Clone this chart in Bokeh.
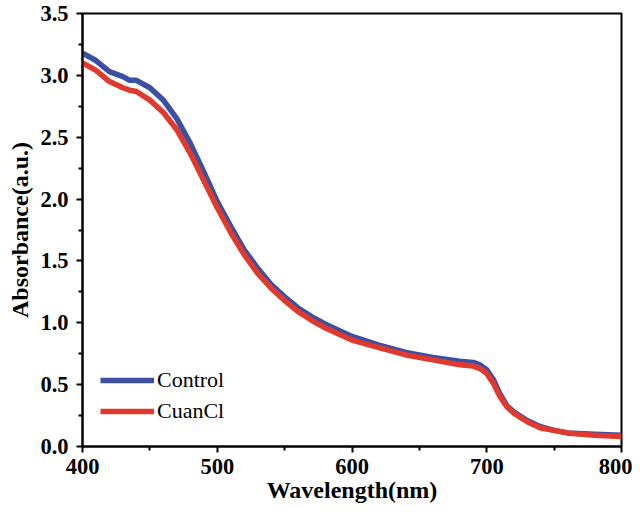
from bokeh.plotting import figure
from bokeh.models import Legend, LegendItem, FixedTicker, Range1d
from bokeh.embed import file_html
from bokeh.resources import INLINE

wavelength = [400, 410, 420, 430, 435, 440, 450, 460, 470, 480, 490, 500, 510, 520, 530,
              540, 550, 560, 570, 580, 590, 600, 620, 640, 660, 680, 690, 695, 700, 705,
              710, 715, 720, 730, 740, 750, 760, 780, 800]
control = [3.18, 3.12, 3.03, 2.99, 2.96, 2.96, 2.90, 2.80, 2.65, 2.45, 2.22, 1.98, 1.78, 1.59, 1.44,
           1.31, 1.21, 1.12, 1.05, 0.99, 0.94, 0.89, 0.82, 0.76, 0.72, 0.69, 0.68, 0.66, 0.62, 0.54,
           0.42, 0.33, 0.28, 0.21, 0.16, 0.13, 0.11, 0.10, 0.09]
cuancl = [3.10, 3.04, 2.95, 2.90, 2.88, 2.87, 2.80, 2.70, 2.56, 2.37, 2.15, 1.93, 1.73, 1.55, 1.40,
          1.28, 1.18, 1.09, 1.02, 0.96, 0.91, 0.86, 0.80, 0.74, 0.70, 0.66, 0.65, 0.63, 0.59, 0.51,
          0.40, 0.32, 0.27, 0.20, 0.15, 0.13, 0.11, 0.09, 0.08]
x_ticks = [400, 500, 600, 700, 800]
y_ticks = [0.0, 0.5, 1.0, 1.5, 2.0, 2.5, 3.0, 3.5]

FONT = "Liberation Serif"

p = figure(width=632, height=511, output_backend="svg", toolbar_location=None,
           x_range=Range1d(400, 800), y_range=Range1d(0, 3.5),
           min_border_left=82, min_border_right=11, min_border_top=13, min_border_bottom=65)
p.grid.visible = False
p.outline_line_color = "black"
p.outline_line_width = 2

l1 = p.line(wavelength, control, line_color="#3B50A3", line_width=5.5)
l2 = p.line(wavelength, cuancl, line_color="#E03A2F", line_width=5.5)

for ax in (p.xaxis[0], p.yaxis[0]):
    ax.axis_line_width = 2
    ax.major_tick_line_width = 2
    ax.minor_tick_line_width = 2
    ax.major_tick_out = 6
    ax.major_tick_in = 0
    ax.minor_tick_out = 4
    ax.minor_tick_in = 0
    ax.major_label_text_font = FONT
    ax.major_label_text_font_style = "bold"
    ax.major_label_text_font_size = "22.5px"
    ax.axis_label_text_font = FONT
    ax.axis_label_text_font_style = "bold"
    ax.axis_label_text_font_size = "24px"
    ax.major_label_text_color = "black"
    ax.axis_label_text_color = "black"

p.xaxis[0].ticker = FixedTicker(ticks=x_ticks, minor_ticks=[450, 550, 650, 750])
p.yaxis[0].ticker = FixedTicker(ticks=y_ticks, minor_ticks=[0.25, 0.75, 1.25, 1.75, 2.25, 2.75, 3.25])
p.xaxis[0].major_label_overrides = {v: str(v) for v in x_ticks}
p.yaxis[0].major_label_overrides = {v: f"{v:.1f}" for v in y_ticks}
p.xaxis[0].axis_label = "Wavelength(nm)"
p.yaxis[0].axis_label = "Absorbance(a.u.)"
p.xaxis[0].major_label_standoff = 6
p.yaxis[0].major_label_standoff = 8
p.xaxis[0].axis_label_standoff = 0
p.yaxis[0].axis_label_standoff = 4

legend = Legend(items=[LegendItem(label="Control", renderers=[l1]),
                       LegendItem(label="CuanCl", renderers=[l2])],
                location=(14, 18), background_fill_alpha=0, border_line_alpha=0,
                label_text_font=FONT, label_text_font_size="22px", label_text_color="black",
                glyph_width=54, glyph_height=22, label_standoff=3, spacing=5, padding=4)
p.add_layout(legend, "center")

open("out.html", "w").write(file_html(p, INLINE))
